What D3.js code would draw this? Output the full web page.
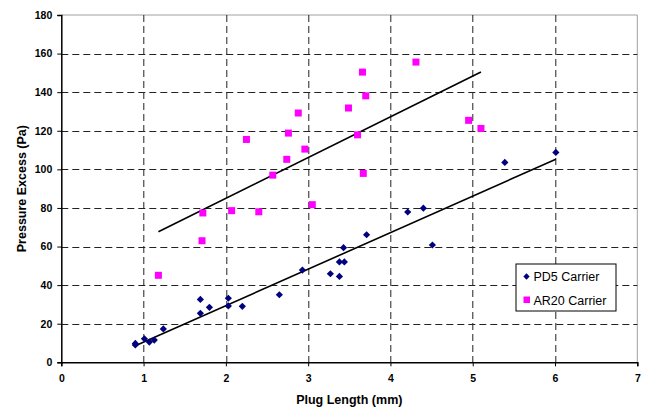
<!DOCTYPE html>
<html>
<head>
<meta charset="utf-8">
<script src="https://cdn.jsdelivr.net/npm/d3@7"></script>
<style>
  body { margin: 0; background: #fff; }
  svg text { font-family: "Liberation Sans", Arial, sans-serif; }
</style>
</head>
<body>
<div id="chart"></div>
<script>
// PD5 Carrier points (plug length mm, pressure excess Pa)
var pd5X = [0.90, 0.90, 1.01, 1.07, 1.13, 1.24, 1.69, 1.69, 1.80, 2.03, 2.03, 2.20, 2.65, 2.93, 3.27, 3.38, 3.38, 3.44, 3.43, 3.71, 4.21, 4.40, 4.51, 5.39, 6.01];
var pd5Y = [9.8, 9.0, 12.2, 10.5, 11.5, 17.3, 32.6, 25.4, 28.5, 33.2, 29.2, 29.0, 35.0, 47.8, 45.9, 44.5, 52.0, 52.0, 59.4, 66.1, 77.9, 79.9, 60.8, 103.6, 108.8];

// AR20 Carrier points
var ar20X = [1.18, 1.71, 1.72, 2.07, 2.40, 3.05, 2.25, 2.57, 2.74, 2.76, 2.88, 2.96, 3.49, 3.60, 3.66, 3.70, 3.67, 4.31, 4.95, 5.10];
var ar20Y = [45.1, 63.0, 77.4, 78.6, 78.0, 81.7, 115.5, 97.0, 105.2, 118.8, 129.2, 110.5, 131.8, 117.9, 150.4, 138.1, 97.9, 155.6, 125.4, 121.2];

var xTicks = [0, 1, 2, 3, 4, 5, 6, 7];
var yTicks = [0, 20, 40, 60, 80, 100, 120, 140, 160, 180];
var seriesNames = ["PD5 Carrier", "AR20 Carrier"];

var W = 646, H = 413;
var margin = { left: 61.3, top: 15, right: 8.7, bottom: 50.7 };
var width = W - margin.left - margin.right, height = H - margin.top - margin.bottom;

var svg = d3.select("#chart").append("svg")
    .attr("width", W).attr("height", H);
var g = svg.append("g").attr("transform", "translate(" + margin.left + "," + margin.top + ")");

var x = d3.scaleLinear().domain([0, 7]).range([0, width]);
var y = d3.scaleLinear().domain([0, 180]).range([height, 0]);

// plot frame (top and right)
g.append("path")
    .attr("d", "M0,0H" + width + "V" + height)
    .attr("fill", "none").attr("stroke", "#a0a0a0").attr("stroke-width", 1);

// gridlines
g.append("g").selectAll("line").data(yTicks.filter(function(d) { return d > 0 && d < 180; }))
    .enter().append("line")
        .attr("x1", 0).attr("x2", width)
        .attr("y1", function(d) { return Math.round(y(d)) + 0.5; })
        .attr("y2", function(d) { return Math.round(y(d)) + 0.5; })
        .attr("stroke", "#222").attr("stroke-dasharray", "7,4");
g.append("g").selectAll("line").data(xTicks.filter(function(d) { return d > 0 && d < 7; }))
    .enter().append("line")
        .attr("y1", 0).attr("y2", height)
        .attr("x1", function(d) { return Math.round(x(d)) + 0.5; })
        .attr("x2", function(d) { return Math.round(x(d)) + 0.5; })
        .attr("stroke", "#222").attr("stroke-dasharray", "7,4");

// axes
var xAxis = g.append("g").attr("transform", "translate(0," + height + ")")
    .call(d3.axisBottom(x).tickValues(xTicks).tickSize(4).tickPadding(8).tickFormat(d3.format("d")));
var yAxis = g.append("g")
    .call(d3.axisLeft(y).tickValues(yTicks).tickSize(4).tickPadding(5).tickFormat(d3.format("d")));
[xAxis, yAxis].forEach(function(a) {
    a.select(".domain").attr("stroke", "#000").attr("stroke-width", 1.5);
    a.selectAll(".tick line").attr("stroke", "#000");
    a.selectAll(".tick text").attr("font-size", "10.5px").attr("font-weight", "bold").attr("fill", "#000");
});

// least-squares trend line
function fit(xs, ys) {
    var n = xs.length, mx = d3.mean(xs), my = d3.mean(ys);
    var sxy = 0, sxx = 0;
    for (var i = 0; i < n; i++) { sxy += (xs[i] - mx) * (ys[i] - my); sxx += (xs[i] - mx) * (xs[i] - mx); }
    var b = sxy / sxx, a = my - b * mx;
    var x0 = d3.min(xs), x1 = d3.max(xs);
    return [[x0, a + b * x0], [x1, a + b * x1]];
}
var line = d3.line().x(function(d) { return x(d[0]); }).y(function(d) { return y(d[1]); });
[[pd5X, pd5Y], [ar20X, ar20Y]].forEach(function(s) {
    g.append("path").attr("d", line(fit(s[0], s[1])))
        .attr("fill", "none").attr("stroke", "#000").attr("stroke-width", 1.6);
});

// points
var diamond = d3.symbol().type(d3.symbolSquare).size(26);
g.append("g").selectAll("path").data(d3.range(pd5X.length)).enter().append("path")
    .attr("d", diamond)
    .attr("transform", function(i) { return "translate(" + x(pd5X[i]) + "," + y(pd5Y[i]) + ") rotate(45)"; })
    .attr("fill", "#000080");
g.append("g").selectAll("rect").data(d3.range(ar20X.length)).enter().append("rect")
    .attr("x", function(i) { return x(ar20X[i]) - 3.5; })
    .attr("y", function(i) { return y(ar20Y[i]) - 3.5; })
    .attr("width", 7).attr("height", 7)
    .attr("fill", "#ff00ff");

// axis titles
svg.append("text")
    .attr("x", margin.left + width / 2).attr("y", 404)
    .attr("text-anchor", "middle").attr("font-size", "12.5px").attr("font-weight", "bold")
    .text("Plug Length (mm)");
svg.append("text")
    .attr("transform", "translate(26," + (margin.top + height / 2) + ") rotate(-90)")
    .attr("text-anchor", "middle").attr("font-size", "12.5px").attr("font-weight", "bold")
    .text("Pressure Excess (Pa)");

// legend
var leg = svg.append("g").attr("transform", "translate(516,264)");
leg.append("rect").attr("width", 100).attr("height", 47)
    .attr("fill", "#fff").attr("stroke", "#000").attr("stroke-width", 1);
leg.append("path").attr("d", d3.symbol().type(d3.symbolSquare).size(20)).attr("transform", "translate(10.5,12.5) rotate(45)").attr("fill", "#000080");
leg.append("rect").attr("x", 7.5).attr("y", 32.5).attr("width", 6.5).attr("height", 6.5).attr("fill", "#ff00ff");
leg.selectAll("text.l").data(seriesNames).enter().append("text")
    .attr("x", 17.5).attr("y", function(d, i) { return 17 + i * 23.5; })
    .attr("font-size", "12.5px").attr("fill", "#000")
    .text(function(d) { return d; });
</script>
</body>
</html>
